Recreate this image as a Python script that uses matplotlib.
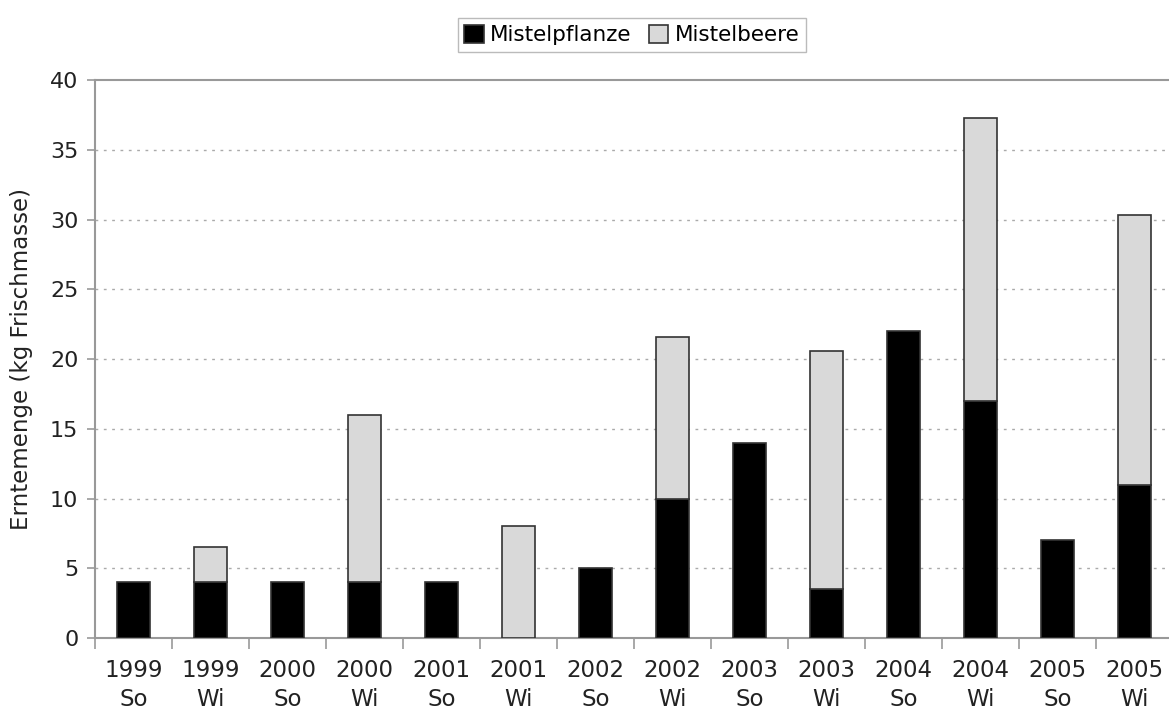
import matplotlib
matplotlib.use("Agg")
import matplotlib.pyplot as plt
import numpy as np

years = ["1999", "1999", "2000", "2000", "2001", "2001", "2002",
         "2002", "2003", "2003", "2004", "2004", "2005", "2005"]
seasons = ["So", "Wi", "So", "Wi", "So", "Wi", "So",
           "Wi", "So", "Wi", "So", "Wi", "So", "Wi"]
pflanze = [4, 4, 4, 4, 4, 0, 5, 10, 14, 3.5, 22, 17, 7, 11]
beere = [0, 2.5, 0, 12, 0, 8, 0, 11.6, 0, 17.1, 0, 20.3, 0, 19.3]

plt.rcParams["font.family"] = ["DejaVu Sans"]

fig = plt.figure(figsize=(11.69, 7.15), dpi=100)
ax = fig.add_axes([95 / 1169, 1 - 638 / 715, 1078 / 1169, 558 / 715])

x = np.arange(len(years))
w = 0.43
ax.bar(x, pflanze, w, color="black", edgecolor="#333333", linewidth=1.2,
       label="Mistelpflanze", zorder=3)
beere_arr = np.array(beere)
mask = beere_arr > 0
ax.bar(x[mask], beere_arr[mask], w, bottom=np.array(pflanze)[mask],
       color="#d9d9d9", edgecolor="#333333", linewidth=1.2,
       label="Mistelbeere", zorder=3)

ax.set_xlim(-0.5, len(years) - 0.5)
ax.set_ylim(0, 40)
ax.set_yticks(range(0, 41, 5))
ax.set_xticks(x)
ax.set_xticklabels([f"{y}\n{s}" for y, s in zip(years, seasons)],
                   fontsize=16.5, color="#222222", linespacing=1.35)
ax.tick_params(axis="x", length=0, pad=15)
ax.set_xticks(np.arange(-0.5, len(years), 1), minor=True)
ax.tick_params(axis="x", which="minor", length=8, color="#999999", width=1.2)
ax.tick_params(axis="y", labelsize=16, labelcolor="#222222",
               length=6, color="#999999", width=1.2, pad=6)

for v in range(5, 40, 5):
    ax.axhline(v, color="#aaaaaa", linestyle=(0, (2, 4)), linewidth=1, zorder=1)

for s in ax.spines.values():
    s.set_color("#999999")
    s.set_linewidth(1.5)

ax.set_ylabel("Erntemenge (kg Frischmasse)", fontsize=16.5, color="#222222", labelpad=12)

leg = fig.legend(loc="center", bbox_to_anchor=(632 / 1169, 1 - 35 / 715), ncol=2,
                 fontsize=15.5, frameon=True, fancybox=False, edgecolor="#aaaaaa",
                 handlelength=0.9, handleheight=0.9, handletextpad=0.3,
                 columnspacing=0.8, borderpad=0.3)
leg.get_frame().set_linewidth(1)

fig.savefig("out.png", dpi=100)
